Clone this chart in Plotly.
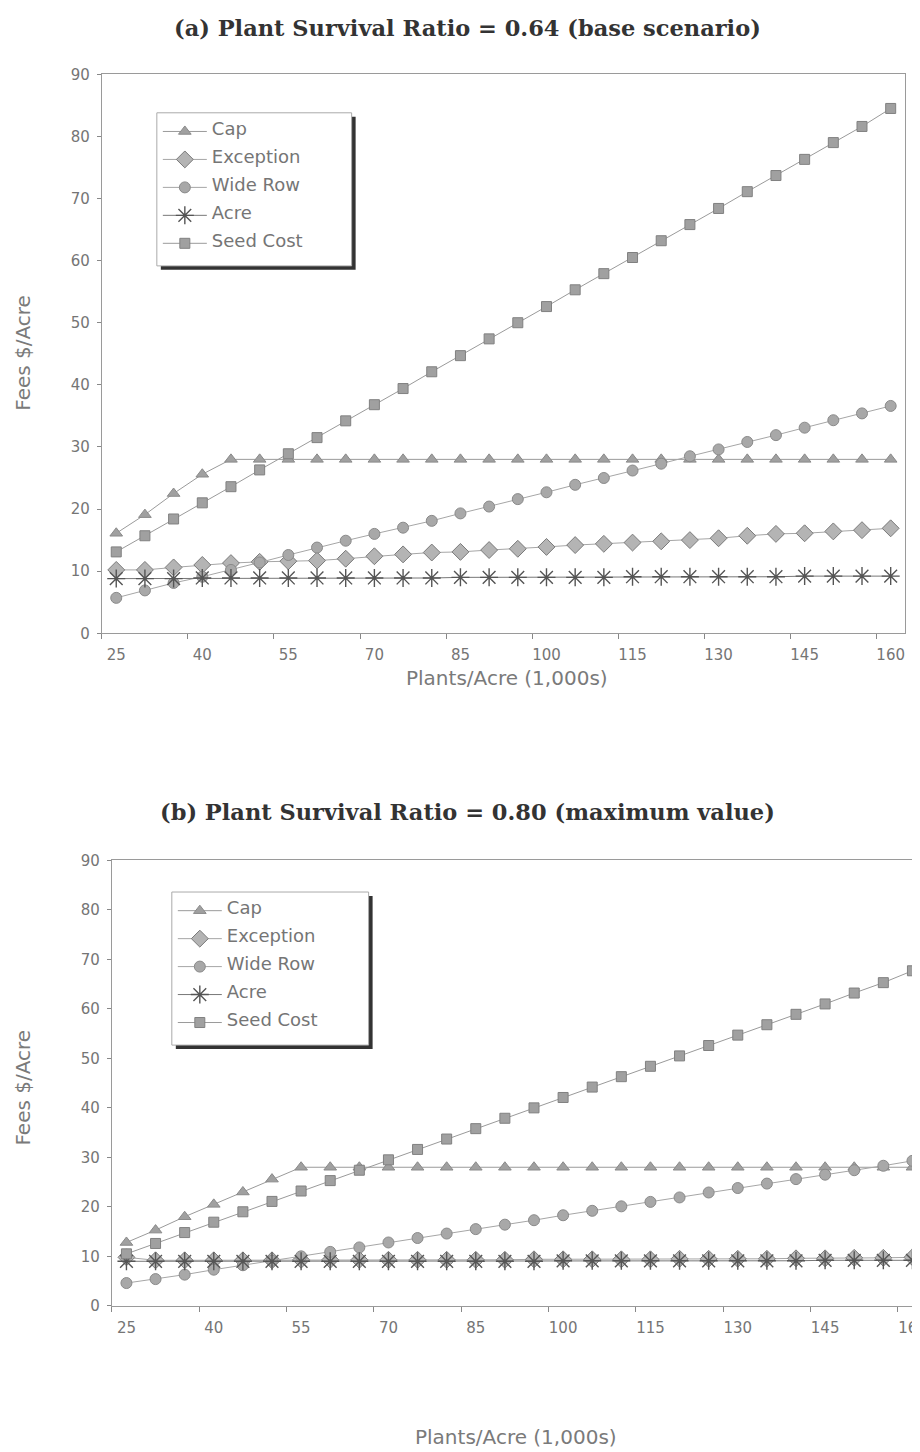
import plotly.graph_objects as go

W, H = 920, 1452

plants = [25, 30, 35, 40, 45, 50, 55, 60, 65, 70, 75, 80, 85, 90, 95, 100,
          105, 110, 115, 120, 125, 130, 135, 140, 145, 150, 155, 160]
tick_labels = [25, 40, 55, 70, 85, 100, 115, 130, 145, 160]

# (a) Plant Survival Ratio = 0.64
a_cap = [16.1, 19.1, 22.5, 25.6, 28.0, 28.0, 28.0, 28.0, 28.0, 28.0, 28.0, 28.0, 28.0, 28.0,
         28.0, 28.0, 28.0, 28.0, 28.0, 28.0, 28.0, 28.0, 28.0, 28.0, 28.0, 28.0, 28.0, 28.0]
a_exception = [10.2, 10.2, 10.6, 11.0, 11.3, 11.5, 11.6, 11.7, 12.0, 12.4, 12.7, 13.0, 13.1, 13.4,
               13.6, 13.9, 14.2, 14.4, 14.6, 14.8, 15.0, 15.3, 15.7, 16.0, 16.1, 16.4, 16.6, 16.9]
a_widerow = [5.7, 6.9, 8.1, 9.1, 10.2, 11.4, 12.6, 13.8, 14.9, 16.0, 17.0, 18.1, 19.3, 20.4,
             21.6, 22.7, 23.9, 25.0, 26.2, 27.3, 28.5, 29.6, 30.8, 31.9, 33.1, 34.3, 35.4, 36.6]
a_acre = [8.8, 8.8, 8.8, 8.9, 8.9, 8.9, 8.9, 8.9, 8.9, 8.9, 8.9, 8.9, 9.0, 9.0,
          9.0, 9.0, 9.0, 9.0, 9.1, 9.1, 9.1, 9.1, 9.1, 9.1, 9.2, 9.2, 9.2, 9.2]
a_seed = [13.1, 15.7, 18.4, 21.0, 23.6, 26.3, 28.9, 31.5, 34.2, 36.8, 39.4, 42.1, 44.7, 47.4,
          50.0, 52.6, 55.3, 57.9, 60.5, 63.2, 65.8, 68.4, 71.1, 73.7, 76.3, 79.0, 81.6, 84.5]

# (b) Plant Survival Ratio = 0.80
b_cap = [12.8, 15.3, 18.0, 20.5, 23.0, 25.6, 28.0, 28.0, 28.0, 28.0, 28.0, 28.0, 28.0, 28.0,
         28.0, 28.0, 28.0, 28.0, 28.0, 28.0, 28.0, 28.0, 28.0, 28.0, 28.0, 28.0, 28.0, 28.0]
b_exception = [9.8, 9.2, 9.2, 9.2, 9.2, 9.2, 9.3, 9.3, 9.3, 9.3, 9.3, 9.3, 9.3, 9.3,
               9.4, 9.4, 9.4, 9.4, 9.4, 9.5, 9.5, 9.5, 9.5, 9.6, 9.6, 9.7, 9.7, 9.8]
b_widerow = [4.6, 5.4, 6.3, 7.3, 8.2, 9.1, 10.0, 10.9, 11.8, 12.8, 13.7, 14.6, 15.5, 16.4,
             17.3, 18.3, 19.2, 20.1, 21.0, 21.9, 22.9, 23.8, 24.7, 25.6, 26.5, 27.4, 28.3, 29.3]
b_acre = [9.0, 9.0, 9.0, 9.0, 9.0, 9.0, 9.0, 9.0, 9.0, 9.0, 9.0, 9.0, 9.0, 9.0,
          9.0, 9.1, 9.1, 9.1, 9.1, 9.1, 9.1, 9.1, 9.1, 9.1, 9.2, 9.2, 9.2, 9.2]
b_seed = [10.5, 12.6, 14.8, 16.9, 19.0, 21.1, 23.2, 25.3, 27.4, 29.5, 31.6, 33.7, 35.8, 37.9,
          40.0, 42.1, 44.2, 46.3, 48.4, 50.5, 52.6, 54.7, 56.8, 58.9, 61.0, 63.2, 65.3, 67.7]

series_names = ["Cap", "Exception", "Wide Row", "Acre", "Seed Cost"]
styles = {
    "Cap": dict(symbol="triangle-up", size=11, color="#a0a0a0", line=dict(color="#8a8a8a", width=1)),
    "Exception": dict(symbol="diamond", size=13, color="#b4b4b4", line=dict(color="#7a7a7a", width=1)),
    "Wide Row": dict(symbol="circle", size=11, color="#a8a8a8", line=dict(color="#8a8a8a", width=1)),
    "Acre": dict(symbol="asterisk-open", size=15, color="#555555", line=dict(color="#555555", width=1.4)),
    "Seed Cost": dict(symbol="square", size=10, color="#a0a0a0", line=dict(color="#808080", width=1)),
}
line_colors = {"Cap": "#9a9a9a", "Exception": "#a6a6a6", "Wide Row": "#a6a6a6",
               "Acre": "#777777", "Seed Cost": "#9a9a9a"}

SANS = "DejaVu Sans, Verdana, sans-serif"
LEG_TEXT_SIZE = 18

fig = go.Figure()

def px_x(px):
    return px / W

def px_y(py):
    return 1 - py / H

# plot boxes in pixels: (left, top, right, bottom)
box_a = (94, 58, 898, 624)
box_b = (104, 854, 920, 1305)

panels = [
    dict(data=[a_cap, a_exception, a_widerow, a_acre, a_seed], xa="x", ya="y", legend="legend"),
    dict(data=[b_cap, b_exception, b_widerow, b_acre, b_seed], xa="x2", ya="y2", legend="legend2"),
]
for p in panels:
    for name, vals in zip(series_names, p["data"]):
        label = f'<span style="font-size:{LEG_TEXT_SIZE}px">{name}</span><br> '
        fig.add_trace(go.Scatter(
            x=plants, y=vals, name=label, mode="lines+markers",
            line=dict(color=line_colors[name], width=1),
            marker=styles[name], xaxis=p["xa"], yaxis=p["ya"], legend=p["legend"],
            hovertemplate=name + ": %{y}<extra></extra>",
        ))

tick_font = dict(family=SANS, size=15, color="#757575")
common_x = dict(range=[22.5, 162.5], tickmode="array", tickvals=tick_labels,
                ticktext=[str(t) for t in tick_labels], ticks="", showgrid=False,
                showline=True, linecolor="#9a9a9a", linewidth=1, mirror=True, zeroline=False,
                tickfont=tick_font, ticklabelstandoff=8,
                minor=dict(ticks="outside", tick0=22.5, dtick=15, ticklen=5, tickcolor="#888", showgrid=False))
common_y = dict(range=[0, 90], dtick=10, ticks="outside", ticklen=4, tickcolor="#888",
                showgrid=False, showline=True, linecolor="#9a9a9a", linewidth=1, mirror=True,
                zeroline=False, tickfont=tick_font, ticklabelstandoff=4)

fig.update_layout(
    width=W, height=H, margin=dict(l=0, r=0, t=0, b=0),
    paper_bgcolor="white", plot_bgcolor="white", showlegend=True,
    xaxis=dict(domain=[px_x(box_a[0]), px_x(box_a[2])], anchor="y", **common_x),
    yaxis=dict(domain=[px_y(box_a[3]), px_y(box_a[1])], anchor="x", **common_y),
    xaxis2=dict(domain=[px_x(box_b[0]), min(1.0, px_x(box_b[2]))], anchor="y2", **common_x),
    yaxis2=dict(domain=[px_y(box_b[3]), px_y(box_b[1])], anchor="x2", **common_y),
)

leg_boxes = [(149, 97, 344, 252), (164, 886, 361, 1041)]
leg_font = dict(family=SANS, size=9.6, color="#757575")
fig.update_layout(
    legend=dict(x=px_x(leg_boxes[0][0] + 1), y=px_y(leg_boxes[0][1] + 6), xanchor="left", yanchor="top",
                bgcolor="rgba(0,0,0,0)", borderwidth=0, font=leg_font, itemwidth=44,
                tracegroupgap=0, valign="top"),
    legend2=dict(x=px_x(leg_boxes[1][0] + 1), y=px_y(leg_boxes[1][1] + 6), xanchor="left", yanchor="top",
                 bgcolor="rgba(0,0,0,0)", borderwidth=0, font=leg_font, itemwidth=44,
                 tracegroupgap=0, valign="top"),
)

shapes = []
for (x0, y0, x1, y1) in leg_boxes:
    shapes.append(dict(type="rect", xref="paper", yref="paper",
                       x0=px_x(x0 + 4), x1=px_x(x1 + 4), y0=px_y(y1 + 4), y1=px_y(y0 + 4),
                       fillcolor="#333333", line=dict(width=0), layer="above"))
    shapes.append(dict(type="rect", xref="paper", yref="paper",
                       x0=px_x(x0), x1=px_x(x1), y0=px_y(y1), y1=px_y(y0),
                       fillcolor="white", line=dict(color="#aaaaaa", width=1), layer="above"))
fig.update_layout(shapes=shapes)

title_font = dict(family="DejaVu Serif, serif", size=22.5, color="#333333")
axis_title_font = dict(family=SANS, size=20, color="#7a7a7a")
annotations = [
    dict(text="<b>(a) Plant Survival Ratio = 0.64 (base scenario)</b>", x=0.5, y=px_y(11),
         xanchor="center", yanchor="middle", xref="paper", yref="paper", showarrow=False, font=title_font),
    dict(text="<b>(b) Plant Survival Ratio = 0.80 (maximum value)</b>", x=0.5, y=px_y(805),
         xanchor="center", yanchor="middle", xref="paper", yref="paper", showarrow=False, font=title_font),
    dict(text="Fees $/Acre", x=px_x(15), y=px_y(340), xanchor="center", yanchor="middle",
         xref="paper", yref="paper", showarrow=False, textangle=-90, font=axis_title_font),
    dict(text="Fees $/Acre", x=px_x(15), y=px_y(1084), xanchor="center", yanchor="middle",
         xref="paper", yref="paper", showarrow=False, textangle=-90, font=axis_title_font),
    dict(text="Plants/Acre (1,000s)", x=px_x(500), y=px_y(669), xanchor="center", yanchor="middle",
         xref="paper", yref="paper", showarrow=False, font=axis_title_font),
    dict(text="Plants/Acre (1,000s)", x=px_x(509), y=px_y(1438), xanchor="center", yanchor="middle",
         xref="paper", yref="paper", showarrow=False, font=axis_title_font),
]
fig.update_layout(annotations=annotations)

fig.write_html("out.html")
